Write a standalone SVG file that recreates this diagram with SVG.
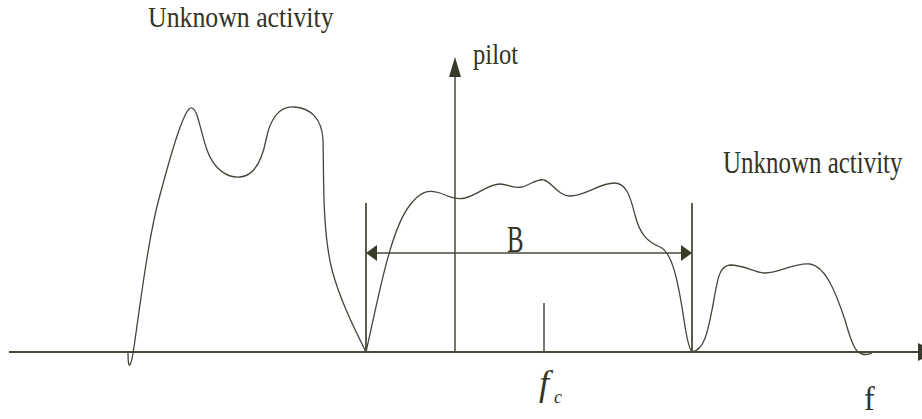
<svg xmlns="http://www.w3.org/2000/svg" width="922" height="419" viewBox="0 0 922 419">
<style>
.curve{fill:none;stroke:#45453a;stroke-width:1.3}
.ax{stroke:#4a4a3a;fill:none}
.head{fill:#3a3a28}
</style>
<rect width="922" height="419" fill="#ffffff"/>
<g id="connectors">
<line class="ax" x1="9" y1="352" x2="920" y2="352" stroke-width="2.2"/>
<polygon class="head" points="918,343 936,352 918,361"/>
<line class="ax" x1="455" y1="352" x2="455" y2="72" stroke-width="1.5"/>
<polygon class="head" points="455,57 449,77 461,77"/>
<line class="ax" x1="366" y1="203" x2="366" y2="352" stroke-width="1.8"/>
<line class="ax" x1="692" y1="203" x2="692" y2="352" stroke-width="1.8"/>
<line class="ax" x1="375" y1="253" x2="683" y2="253" stroke-width="1.5"/>
<polygon class="head" points="366,253 377,245 377,261"/>
<polygon class="head" points="692,253 681,245 681,261"/>
<line class="ax" x1="544" y1="303" x2="544" y2="352" stroke-width="1.5"/>
</g>
<g id="spectrum-left">
<path class="curve" d="M128,352 C128,372 131,370 135,340 C142,290 150,230 160,195 C172,150 185,105 192,108 C198,110 200,130 207,150 C214,170 228,178 240,177 C255,176 262,160 266,140 C270,118 280,106 294,107 C310,108 322,118 323,140 C324,175 322,230 332,270 C340,300 355,330 366,352"/>
</g>
<g id="spectrum-middle">
<path class="curve" d="M366,352 C378,300 390,230 410,205 C420,192 428,189 440,193 C448,196 455,200 465,198 C478,195 488,184 500,184 C508,184 512,189 522,187 C530,185 538,178 544,180 C552,182 558,196 570,196 C585,196 600,183 614,183 C626,183 630,195 635,215 C640,235 648,242 660,247 C672,252 678,280 684,320 C687,340 690,350 692,352"/>
</g>
<g id="spectrum-right">
<path class="curve" d="M692,352 C705,350 708,330 713,305 C718,275 720,266 730,265 C745,265 755,273 765,273 C780,273 795,262 810,264 C825,266 835,290 845,320 C852,345 856,353 862,354 C866,355 870,354 872,353"/>
</g>
<g id="labels" font-family="'Liberation Serif', 'DejaVu Serif', serif" fill="#333326">
<text transform="translate(148,27) scale(0.86,1)" font-size="30">Unknown activity</text>
<text transform="translate(723,173) scale(0.78,1)" font-size="32">Unknown activity</text>
<text transform="translate(473,64) scale(0.82,1)" font-size="30">pilot</text>
<text transform="translate(507,252) scale(0.67,1)" font-size="37">B</text>
<text transform="translate(864,410) scale(0.95,1)" font-size="34">f</text>
<text x="539" y="395" font-size="36" font-style="italic">f</text>
<text x="554" y="403" font-size="18" font-style="italic">c</text>
</g>
</svg>
